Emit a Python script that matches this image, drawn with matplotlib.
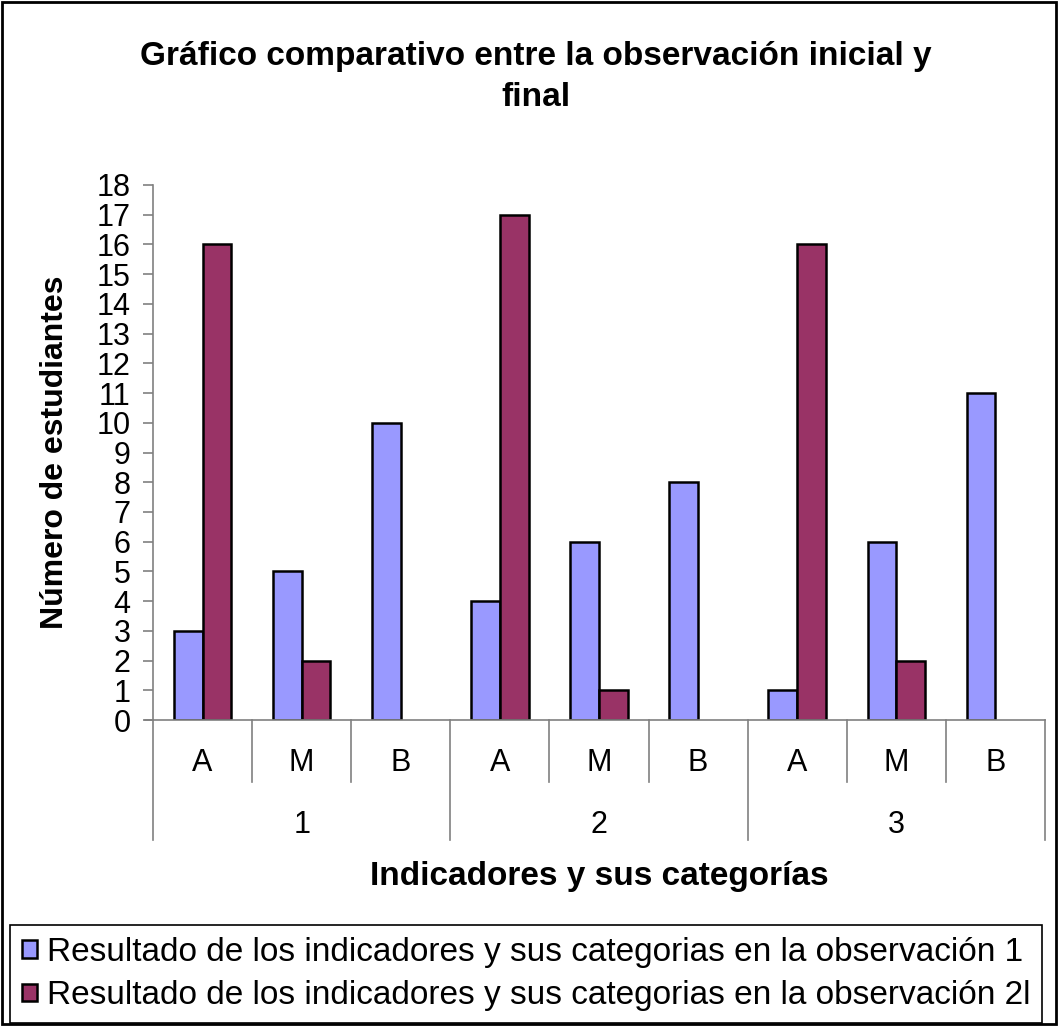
import numpy as np
import matplotlib
matplotlib.use("Agg")
import matplotlib.pyplot as plt
from matplotlib.patches import Rectangle

plt.rcParams['font.family'] = ['Liberation Sans', 'DejaVu Sans']

categories = ['A', 'M', 'B', 'A', 'M', 'B', 'A', 'M', 'B']
groups = ['1', '2', '3']
obs1 = [3, 5, 10, 4, 6, 8, 1, 6, 11]
obs2 = [16, 2, 0, 17, 1, 0, 16, 2, 0]
labels = ['Resultado de los indicadores y sus categorias en la observación 1',
          'Resultado de los indicadores y sus categorias en la observación 2l']

fig = plt.figure(figsize=(10.58, 10.26), dpi=100)
ax = fig.add_axes([153/1058, 1 - 720/1026, 892/1058, 535/1026])

x = np.arange(len(categories))
w = 0.29
b1 = ax.bar(x, obs1, width=-w, align='edge', color='#9999FF', edgecolor='black', linewidth=1.8, label=labels[0])
b2 = ax.bar(x, obs2, width=w, align='edge', color='#993366', edgecolor='black', linewidth=1.8, label=labels[1])
# empty bars should not leave a black line on the axis
for p in list(b1) + list(b2):
    if p.get_height() == 0:
        p.set_visible(False)

ax.set_xlim(-0.5, len(categories) - 0.5)
ax.set_ylim(0, 18)
ax.set_yticks(range(0, 19))
ax.tick_params(axis='y', length=7.2, width=1.2, color='#808080', labelsize=22, pad=9)
ax.set_xticks([])
for s in ['top', 'right']:
    ax.spines[s].set_visible(False)
ax.spines['left'].set_color('#808080')
ax.spines['bottom'].set_color('#808080')
ax.spines['left'].set_linewidth(1.2)
ax.spines['bottom'].set_linewidth(1.2)
# small stub of the x axis to the left of the y axis
ax.plot([0, -8/892], [0, 0], transform=ax.transAxes, color='#808080', lw=1.2, clip_on=False)

tr = ax.get_xaxis_transform()
for i, c in enumerate(categories):
    ax.text(i, -0.08, c, transform=tr, ha='center', va='center', fontsize=22)
for i in range(len(categories) + 1):
    bottom = -0.224 if i % 3 == 0 else -0.116
    ax.plot([i - 0.5, i - 0.5], [0, bottom], transform=tr, color='#808080', lw=1.2, clip_on=False)
for j, g in enumerate(groups):
    ax.text(3 * j + 1, -0.196, g, transform=tr, ha='center', va='center', fontsize=22)

fig.text(536/1058, 1 - 57/1026, 'Gráfico comparativo entre la observación inicial y',
         ha='center', va='center', fontsize=24, fontweight='bold')
fig.text(536/1058, 1 - 97/1026, 'final', ha='center', va='center', fontsize=24, fontweight='bold')
fig.text(599/1058, 1 - 877/1026, 'Indicadores y sus categorías', ha='center', va='center',
         fontsize=24, fontweight='bold')
fig.text(55/1058, 1 - 452/1026, 'Número de estudiantes', ha='center', va='center',
         rotation=90, fontsize=23, fontweight='bold')

leg = fig.legend(loc='lower left', bbox_to_anchor=(10/1058, 3/1026), fontsize=24,
                 frameon=True, fancybox=False, edgecolor='black', framealpha=1,
                 handlelength=0.45, handleheight=0.45, handletextpad=0.3,
                 labelspacing=0.38, borderpad=0.35, borderaxespad=0)
leg.get_frame().set_linewidth(1.2)

fig.patches.append(Rectangle((0.002, 0.002), 0.996, 0.996, transform=fig.transFigure,
                             fill=False, edgecolor='black', linewidth=2))

fig.savefig('out.png', dpi=100)
